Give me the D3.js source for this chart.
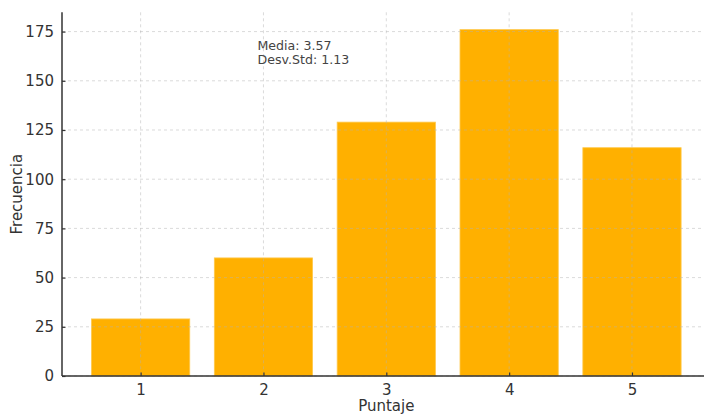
<!DOCTYPE html>
<html><head><meta charset="utf-8">
<script src="https://cdn.jsdelivr.net/npm/d3@7"></script>
<style>body{margin:0;background:#fff}svg{display:block;font-family:"DejaVu Sans",sans-serif}</style>
</head><body><svg id="c" width="704" height="415"></svg>
<script>
const categories = [1, 2, 3, 4, 5];
const frequencies = [29, 60, 129, 176, 116];
const yTicks = [0, 25, 50, 75, 100, 125, 150, 175];
const statsLines = ["Media: 3.57", "Desv.Std: 1.13"];

const svg = d3.select("#c");
const L = 62, R = 710.6, T = 12.3, B = 376;
const x = d3.scaleLinear().domain([0.36, 5.64]).range([L, R]);
const y = d3.scaleLinear().domain([0, 184.8]).range([B, T]);

// bars
svg.append("g").selectAll("rect").data(categories).join("rect")
  .attr("x", d => x(d - 0.4)).attr("width", d => x(d + 0.4) - x(d - 0.4))
  .attr("y", (d, i) => y(frequencies[i])).attr("height", (d, i) => B - y(frequencies[i]))
  .attr("fill", "#ffb000").attr("stroke", "#ffc94d").attr("stroke-width", 0.8);

// grid (on top)
const grid = svg.append("g").attr("stroke", "#b0b0b0").attr("stroke-opacity", 0.6)
  .attr("stroke-width", 0.8).attr("stroke-dasharray", "3,3");
grid.selectAll(".gy").data(yTicks).join("line")
  .attr("x1", L).attr("x2", 704).attr("y1", d => y(d)).attr("y2", d => y(d));
grid.selectAll(".gx").data(categories).join("line")
  .attr("x1", d => x(d)).attr("x2", d => x(d)).attr("y1", T).attr("y2", B);

// axes
const xAxis = d3.axisBottom(x).tickValues(categories).tickFormat(d3.format("d")).tickSizeInner(-3.5).tickSizeOuter(0).tickPadding(8);
const yAxis = d3.axisLeft(y).tickValues(yTicks).tickSizeInner(-3.5).tickSizeOuter(0).tickPadding(8);
const gx = svg.append("g").attr("transform", `translate(0,${B})`).call(xAxis);
const gy = svg.append("g").attr("transform", `translate(${L},0)`).call(yAxis);
[gx, gy].forEach(g => {
  g.select(".domain").attr("stroke", "#333").attr("stroke-width", 1.5);
  g.selectAll(".tick line").attr("stroke", "#333").attr("stroke-width", 1.2);
  g.selectAll(".tick text").attr("fill", "#333").style("font-size", "15px").style("font-family", "DejaVu Sans");
});
gy.select(".domain").attr("d", `M0,${B}V${T}`);
gx.select(".domain").attr("d", `M${L},0H${R}`);

// labels
svg.append("text").attr("x", (L + R) / 2).attr("y", 411).attr("text-anchor", "middle")
  .attr("fill", "#333").style("font-size", "15px").text("Puntaje");
svg.append("text").attr("transform", `translate(22,${(T + B) / 2}) rotate(-90)`).attr("text-anchor", "middle")
  .attr("fill", "#333").style("font-size", "15px").text("Frecuencia");

// stats text
svg.append("g").selectAll("text").data(statsLines).join("text")
  .attr("x", 257.5).attr("y", (d, i) => 49.5 + i * 14.5)
  .attr("fill", "#444").style("font-size", "12.6px").text(d => d);
</script></body></html>
